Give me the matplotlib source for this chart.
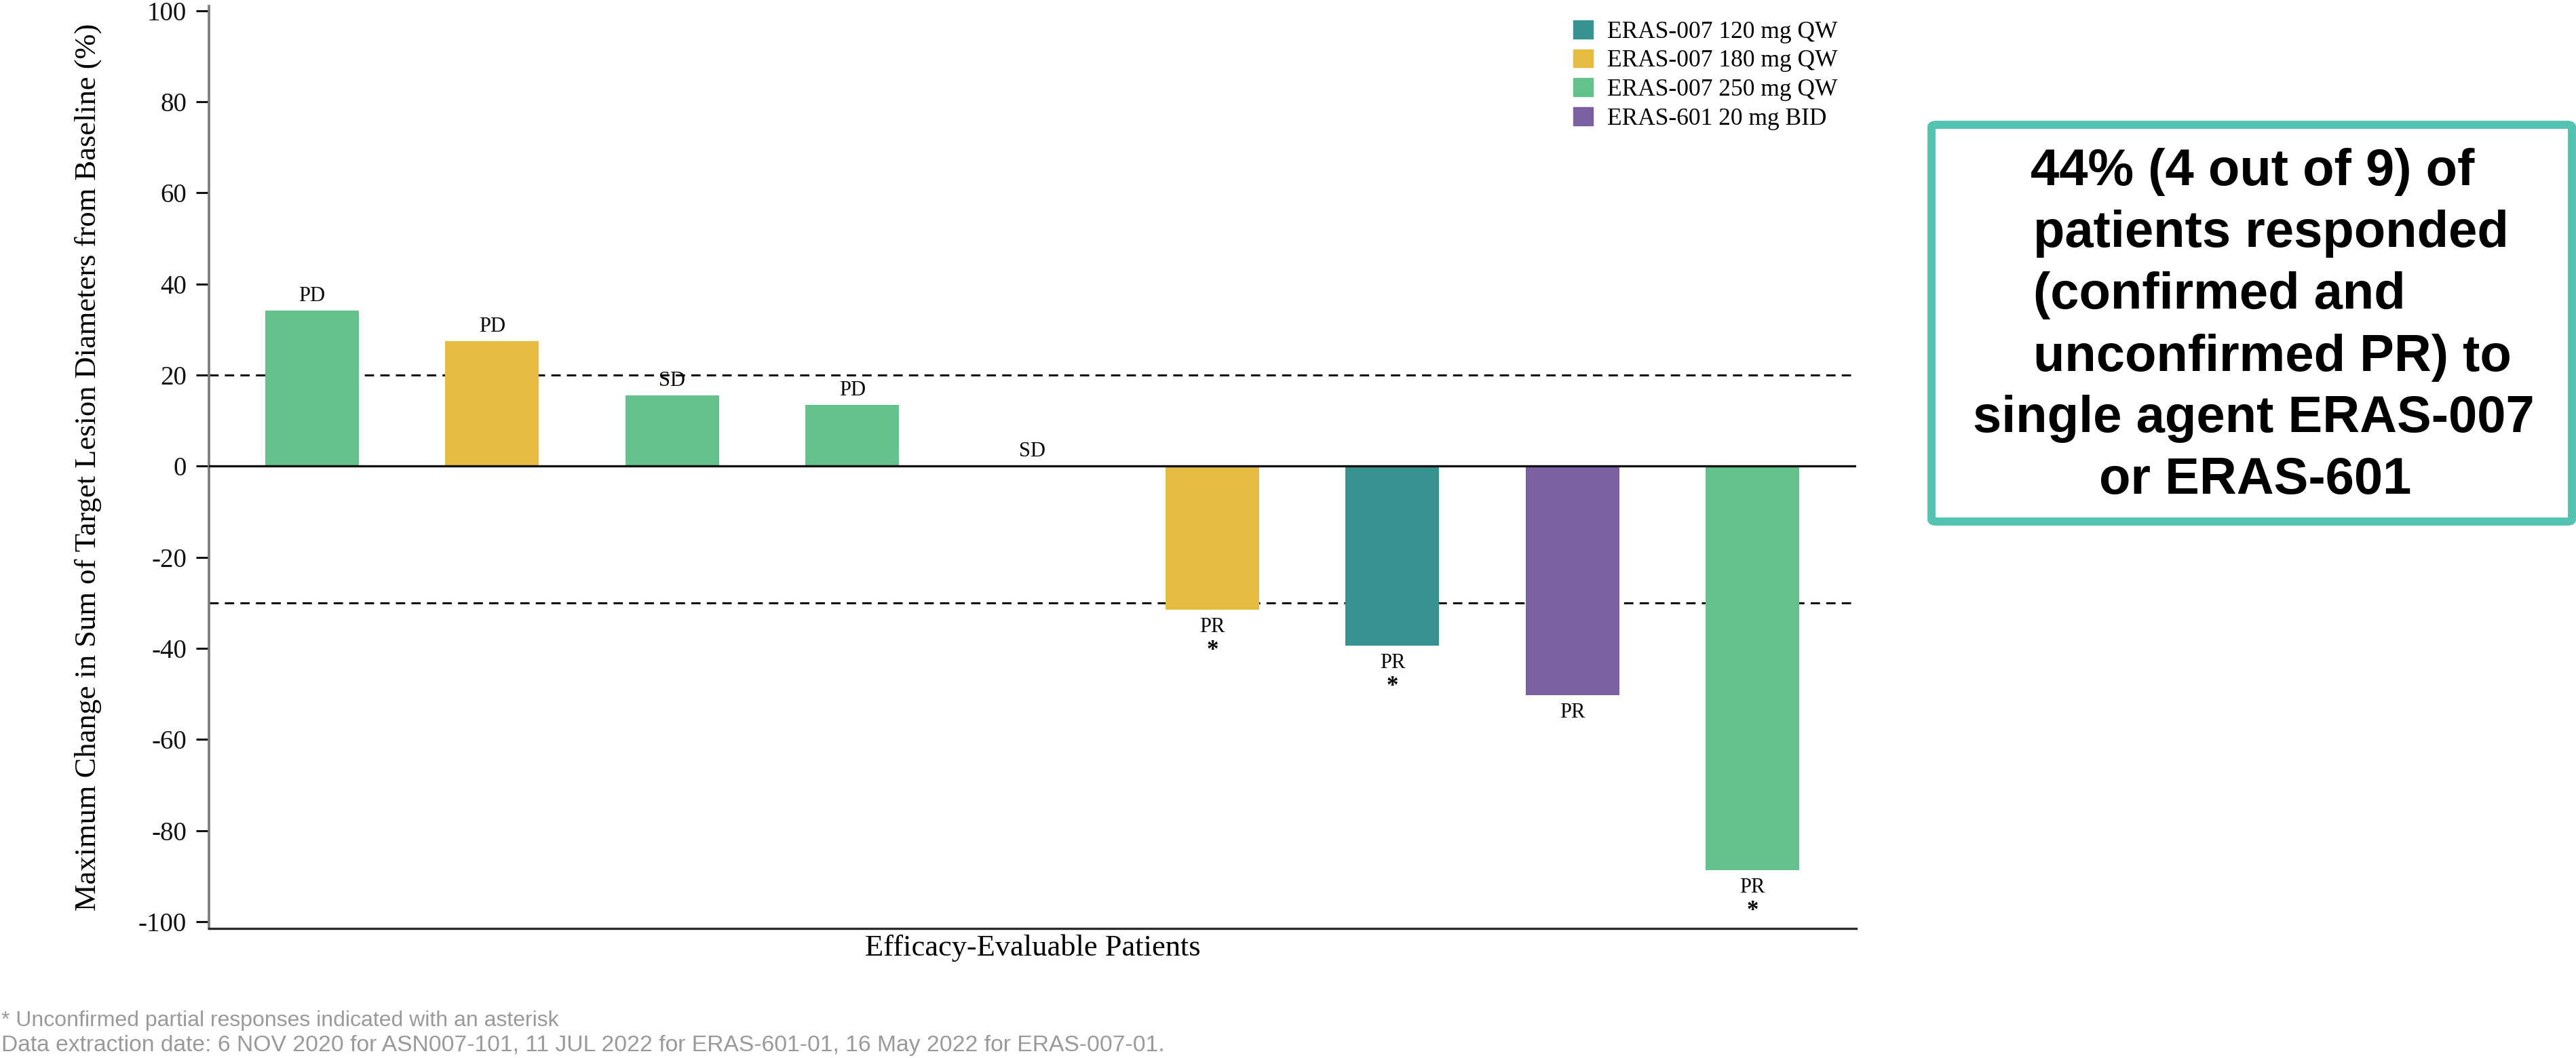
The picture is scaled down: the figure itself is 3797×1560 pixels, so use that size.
import matplotlib
matplotlib.use("Agg")
import matplotlib.pyplot as plt
from matplotlib.patches import Patch, FancyBboxPatch

# data
patients = list(range(9))
max_change = [34.1, 27.5, 15.6, 13.4, 0.0, -31.5, -39.4, -50.3, -88.7]
cohort = ["250", "180", "250", "250", "250", "180", "120", "601", "250"]
response = ["PD", "PD", "SD", "PD", "SD", "PR", "PR", "PR", "PR"]
unconfirmed = [False, False, False, False, False, True, True, False, True]

cohort_names = {
    "120": "ERAS-007 120 mg QW",
    "180": "ERAS-007 180 mg QW",
    "250": "ERAS-007 250 mg QW",
    "601": "ERAS-601 20 mg BID",
}
cohort_colors = {
    "120": "#36938F",
    "180": "#E6BC40",
    "250": "#63C18B",
    "601": "#7A60A0",
}
yticks = list(range(-100, 101, 20))
thresholds = [20, -30]

box_lines = [
    "44% (4 out of 9) of",
    "patients responded",
    "(confirmed and",
    "unconfirmed PR) to",
    "single agent ERAS-007",
    "or ERAS-601",
]
footnotes = [
    "* Unconfirmed partial responses indicated with an asterisk",
    "Data extraction date: 6 NOV 2020 for ASN007-101, 11 JUL 2022 for ERAS-601-01, 16 May 2022 for ERAS-007-01.",
]

plt.rcParams["font.family"] = ["Liberation Serif", "DejaVu Serif"]
plt.rcParams["axes.unicode_minus"] = False

W, H = 3798, 1560
fig = plt.figure(figsize=(W / 100, H / 100), dpi=100)


def fx(px):
    return px / W


def fy(py):
    return 1 - py / H


ax = fig.add_axes([fx(308), fy(1369), fx(2736) - fx(308), fy(9) - fy(1369)])

colors = [cohort_colors[c] for c in cohort]
ax.bar(patients, max_change, width=0.52, color=colors, zorder=2)

for t in thresholds:
    ax.axhline(t, color="#111111", lw=2.2, linestyle=(0, (4.5, 3)), zorder=1)
ax.axhline(0, color="#111111", lw=2.4, zorder=3)

for x, v, r, u in zip(patients, max_change, response, unconfirmed):
    if v >= 0:
        ax.annotate(r, (x, v), xytext=(0, 10), textcoords="offset points",
                    ha="center", va="baseline", fontsize=22)
    else:
        ax.annotate(r, (x, v), xytext=(0, -23.5), textcoords="offset points",
                    ha="center", va="baseline", fontsize=22)
        if u:
            ax.annotate("*", (x, v), xytext=(0, -50), textcoords="offset points",
                        ha="center", va="baseline", fontsize=25, weight="bold")

ax.set_xlim(-0.573, 8.576)
ax.set_ylim(-101.5, 101)
ax.set_xticks([])
ax.set_yticks(yticks)
ax.tick_params(axis="y", length=13.7, width=2.2, pad=10, labelsize=28, colors="#111111")

for s in ["top", "right"]:
    ax.spines[s].set_visible(False)
ax.spines["left"].set_color("#7a7a7a")
ax.spines["left"].set_linewidth(2.6)
ax.spines["bottom"].set_color("#2a2a2a")
ax.spines["bottom"].set_linewidth(2.4)

ax.set_ylabel("Maximum Change in Sum of Target Lesion Diameters from Baseline (%)", fontsize=32)
ax.yaxis.set_label_coords(-0.065, 0.5)
ax.set_xlabel("Efficacy-Evaluable Patients", fontsize=32, va="top")
ax.xaxis.set_label_coords(0.5, -0.006)

handles = [Patch(color=cohort_colors[k]) for k in cohort_names]
ax.legend(handles, list(cohort_names.values()), loc="upper left",
          bbox_to_anchor=(fx(2319), fy(30)), bbox_transform=fig.transFigure,
          frameon=False, fontsize=25.5, borderpad=0, borderaxespad=0,
          handlelength=0.82, handleheight=0.79, handletextpad=0.6, labelspacing=0.25)

# response summary box
box = FancyBboxPatch((fx(2847), fy(769)), fx(3791) - fx(2847), fy(184) - fy(769),
                     boxstyle="round,pad=0,rounding_size=0.002", transform=fig.transFigure,
                     facecolor="white", edgecolor="#55C3B2", lw=8.6)
fig.patches.append(box)
line_x = [2993, 2997, 2997, 2997, 2908, 3094]
line_base = [273, 364, 455, 547, 637, 728]
for txt, lx, ly in zip(box_lines, line_x, line_base):
    fig.text(fx(lx), fy(ly), txt, ha="left", va="baseline", fontsize=54.7,
             weight="bold", family="Liberation Sans")

fig.text(fx(2), fy(1513), footnotes[0], ha="left", va="baseline", fontsize=23,
         color="#9a9a9a", family="Liberation Sans")
fig.text(fx(2), fy(1550), footnotes[1], ha="left", va="baseline", fontsize=24.2,
         color="#9a9a9a", family="Liberation Sans")

fig.savefig("out.png", dpi=100)
